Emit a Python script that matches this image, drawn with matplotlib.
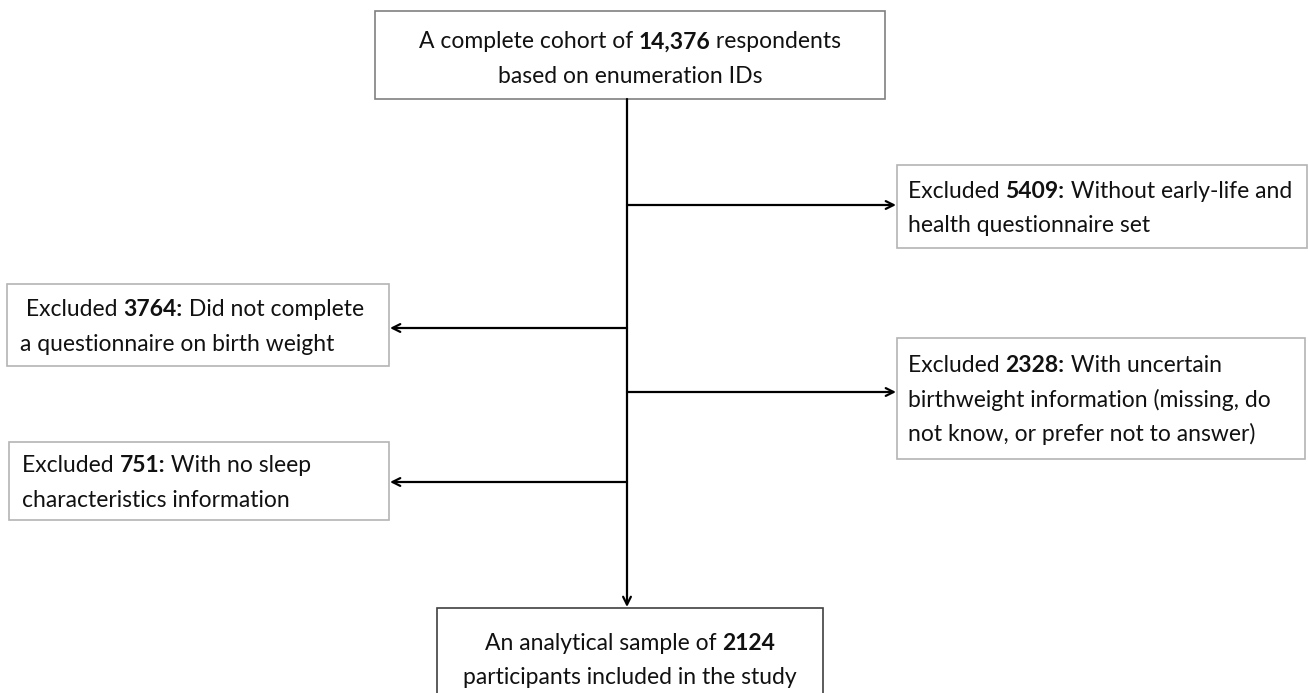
import matplotlib
matplotlib.use("Agg")
import matplotlib.pyplot as plt
from matplotlib.patches import Rectangle

# ── Flowchart content (** marks bold runs) ──
TOP_TEXT = ["A complete cohort of **14,376** respondents",
            "based on enumeration IDs"]
EXCL_1 = ["Excluded **5409:** Without early-life and",
          "health questionnaire set"]
EXCL_2 = [" Excluded **3764:** Did not complete",
          "a questionnaire on birth weight"]
EXCL_3 = ["Excluded **2328:** With uncertain",
          "birthweight information (missing, do",
          "not know, or prefer not to answer)"]
EXCL_4 = ["Excluded **751:** With no sleep",
          "characteristics information"]
BOTTOM_TEXT = ["An analytical sample of **2124**",
               "participants included in the study"]

FONT = "Lato"
SIZE = 16.5
LINE_GAP = 34.5
SPINE_X = 627

W, H = 1308, 693
fig = plt.figure(figsize=(W / 100, H / 100), dpi=100)
ax = fig.add_axes([0, 0, 1, 1])
ax.set_xlim(0, W)
ax.set_ylim(H, 0)
ax.axis("off")
renderer = fig.canvas.get_renderer()


def measure(s, bold):
    w = "bold" if bold else "normal"
    t1 = ax.text(0, 0, "|" + s + "|", fontsize=SIZE, family=FONT, fontweight=w)
    t2 = ax.text(0, 0, "||", fontsize=SIZE, family=FONT, fontweight=w)
    d = (t1.get_window_extent(renderer).width
         - t2.get_window_extent(renderer).width)
    t1.remove()
    t2.remove()
    return d


def split_runs(line):
    parts = line.split("**")
    return [(p, i % 2 == 1) for i, p in enumerate(parts) if p]


def draw_line(line, x, y, center=False):
    runs = split_runs(line)
    widths = [measure(s, b) for s, b in runs]
    if center:
        x = x - sum(widths) / 2
    for (s, b), w in zip(runs, widths):
        ax.text(x, y, s, fontsize=SIZE, family=FONT,
                fontweight="bold" if b else "normal",
                ha="left", va="center", color="#111111")
        x += w


def box(x0, y0, x1, y1, lines, edge, center=False, tx=None, ty=None):
    ax.add_patch(Rectangle((x0, y0), x1 - x0, y1 - y0, facecolor="white",
                           edgecolor=edge, lw=1.2, zorder=0))
    for i, line in enumerate(lines):
        y = ty + i * LINE_GAP
        if center:
            draw_line(line, (x0 + x1) / 2, y, center=True)
        else:
            draw_line(line, tx, y)


def arrow(x0, y0, x1, y1):
    ax.annotate("", xy=(x1, y1), xytext=(x0, y0),
                arrowprops=dict(arrowstyle="->", lw=1.6, color="black",
                                shrinkA=0, shrinkB=0, mutation_scale=14))


box(375, 11, 885, 99, TOP_TEXT, "#808080", center=True, ty=42)
box(897, 165, 1307, 248, EXCL_1, "#b4b4b4", tx=908, ty=191)
box(7, 284, 389, 366, EXCL_2, "#b4b4b4", tx=20, ty=310)
box(897, 338, 1305, 459, EXCL_3, "#b4b4b4", tx=908, ty=365)
box(9, 442, 389, 520, EXCL_4, "#b4b4b4", tx=22, ty=466)
box(437, 608, 823, 700, BOTTOM_TEXT, "#404040", center=True, ty=643)

# spine and branches
arrow(SPINE_X, 99, SPINE_X, 607)
arrow(SPINE_X, 205, 896, 205)
arrow(SPINE_X, 328, 390, 328)
arrow(SPINE_X, 392, 896, 392)
arrow(SPINE_X, 482, 390, 482)

fig.savefig("out.png", dpi=100)
